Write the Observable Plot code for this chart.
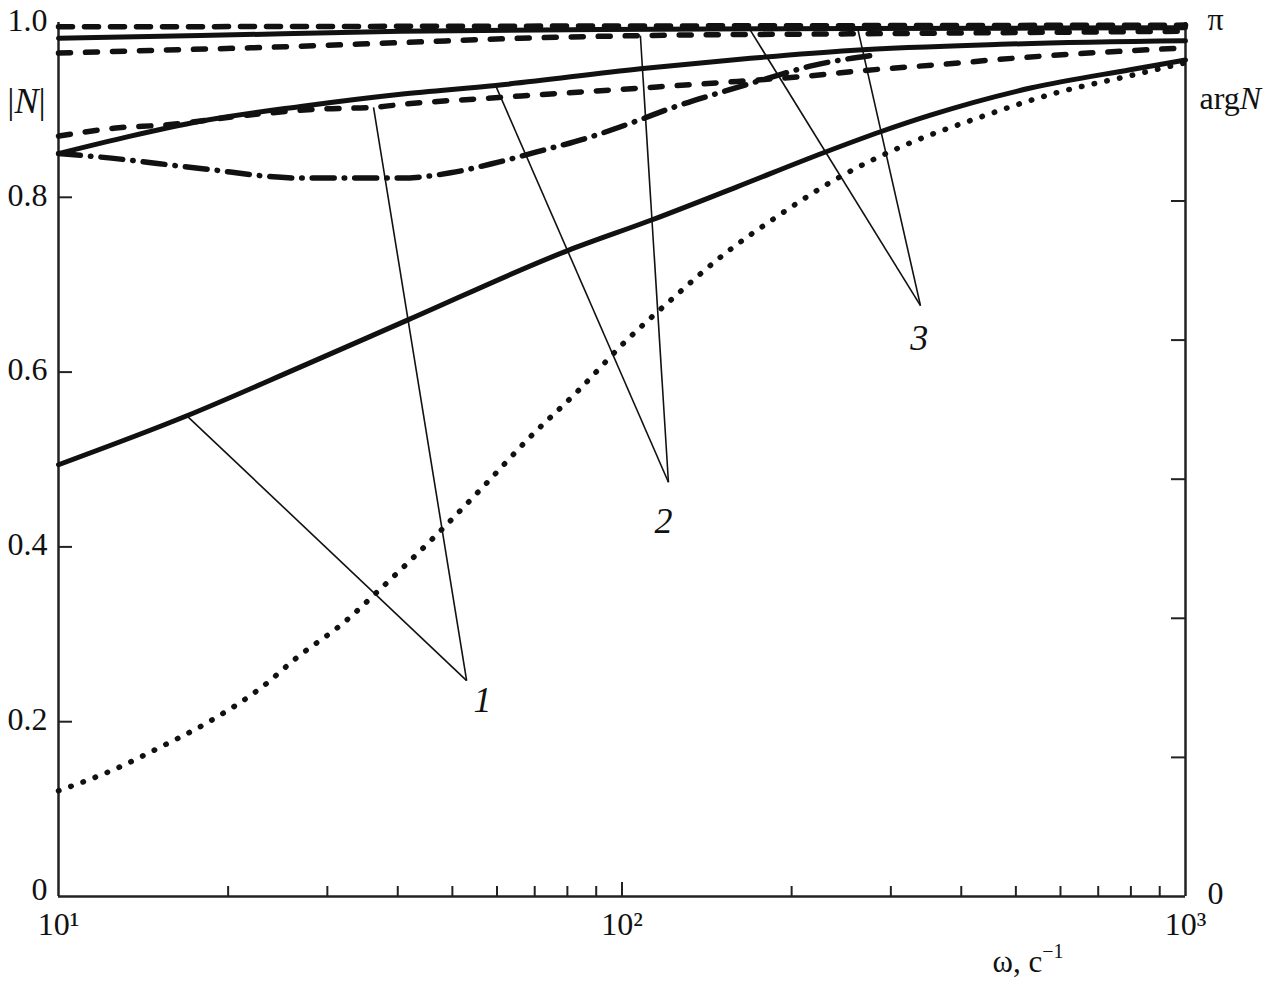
<!DOCTYPE html>
<html><head><meta charset="utf-8">
<script src="https://cdn.jsdelivr.net/npm/d3@7"></script>
<script src="https://cdn.jsdelivr.net/npm/@observablehq/plot@0.6"></script>
<style>body{margin:0;background:#fff} svg{display:block}</style>
</head><body><div id="chart"></div>
<script>
// ---- data (ω in s^-1, values on the |N| axis 0..1; argN axis 0..π shares the same span)
const wA = [10, 16.9, 26.9, 41.8, 80.1, 112.8, 160, 227.9, 287.6, 352.7, 530.9, 797.6, 1000];
const vA = [0.494, 0.550, 0.606, 0.660, 0.739, 0.774, 0.812, 0.851, 0.875, 0.894, 0.925, 0.946, 0.957];

const wB = [10, 12.52, 15.17, 18.38, 23.11, 26.33, 32.3, 37.13, 47.06, 56.55, 68.27, 83.71, 101.0, 120.9, 152.6, 186.5, 246.2, 316.0, 429.2, 585.6, 795.6, 1000];
const vB = [0.121, 0.145, 0.171, 0.199, 0.241, 0.272, 0.315, 0.351, 0.415, 0.468, 0.524, 0.579, 0.634, 0.680, 0.736, 0.776, 0.825, 0.859, 0.891, 0.919, 0.939, 0.954];

const wC = [10, 11.87, 17.86, 26.89, 40.46, 49.62, 60.1, 72.57, 86.85, 104.8, 123.4, 149.5, 181.2, 218.7, 244.2, 276.1];
const vC = [0.850, 0.846, 0.833, 0.822, 0.822, 0.828, 0.840, 0.854, 0.868, 0.886, 0.903, 0.920, 0.936, 0.951, 0.957, 0.962];

const wD = [10, 12.52, 15.61, 21.65, 29.17, 36.23, 41.63, 56.8, 77.8, 107.8, 147.7, 207.4, 268.3, 367.5, 493.2, 672.9, 1000];
const vD = [0.870, 0.879, 0.883, 0.894, 0.901, 0.903, 0.907, 0.913, 0.919, 0.925, 0.931, 0.938, 0.945, 0.952, 0.959, 0.965, 0.971];

const wE = [10, 13.42, 17.86, 26.89, 40.46, 59.65, 107.8, 169, 254.4, 469.5, 1000];
const vE = [0.850, 0.870, 0.887, 0.904, 0.918, 0.928, 0.947, 0.959, 0.968, 0.975, 0.979];

const wF = [10, 14.56, 21.91, 40.46, 66.05, 107.8, 254.4, 1000];
const vF = [0.965, 0.968, 0.971, 0.977, 0.982, 0.985, 0.987, 0.990];

const wG = [10, 17.86, 40.46, 91.6, 254.4, 1000];
const vG = [0.982, 0.985, 0.990, 0.992, 0.993, 0.994];

const wH = [10, 1000];
const vH = [0.995, 0.997];

// axis ticks
const yTicks = [0.2, 0.4, 0.6, 0.8, 1.0];
const yZero = [0];
const yInnerTicks = [0.2, 0.4, 0.6, 0.8];
const argTicks = [0.5, 1, 1.5, 2, 2.5];          // radians
const argLabelValues = [0, Math.PI];
const argLabelText = ["0", "π"];
const xMajor = [10, 100, 1000];
const xMajorLabels = ["10¹", "10²", "10³"];
const xMinor = [20, 30, 40, 50, 60, 70, 80, 90, 200, 300, 400, 500, 600, 700, 800, 900];

// curve labels with leader lines
const labelNames = ["1", "2", "3"];
const labelW = [56.55, 118.5, 337];
const labelV = [0.224, 0.429, 0.638];
const apexW = [53.0, 120.9, 338.6];
const apexV = [0.247, 0.474, 0.676];
const targetW = [[16.9, 36.23], [59.65, 107.8], [169, 262]];
const targetV = [[0.550, 0.903], [0.928, 0.985], [0.991, 0.993]];

// ---- build tables
const toRows = (w, v) => w.map((x, i) => ({w: x, v: v[i]}));
const A = toRows(wA, vA), B = toRows(wB, vB), C = toRows(wC, vC), D = toRows(wD, vD);
const E = toRows(wE, vE), F = toRows(wF, vF), G = toRows(wG, vG), Hc = toRows(wH, vH);
const leaders = [];
labelNames.forEach((n, i) => targetW[i].forEach((tw, j) => leaders.push({w1: apexW[i], v1: apexV[i], w2: tw, v2: targetV[i][j]})));
const labels = labelNames.map((n, i) => ({n, w: labelW[i], v: labelV[i]}));
const xLabelRows = xMajor.map((w, i) => ({w, t: xMajorLabels[i]}));

const W = 1288, H = 984;
const mt = 22, mr = 103, mb = 88, ml = 58;
const plotW = W - ml - mr, plotH = H - mt - mb;

const solid = {x: "w", y: "v", stroke: "#111", strokeWidth: 5, curve: "monotone-x", strokeLinecap: "round"};
const dashed = {...solid, strokeWidth: 5.5, strokeDasharray: "12 15"};
const FS = 32;

const chart = Plot.plot({
  width: W, height: H,
  marginTop: mt, marginRight: mr, marginBottom: mb, marginLeft: ml,
  style: {fontFamily: "'Liberation Serif', 'DejaVu Serif', serif", fontSize: FS + "px", color: "#111", background: "#fff"},
  x: {type: "log", domain: [10, 1000], axis: null},
  y: {domain: [0, 1], axis: null},
  marks: [
    // inner ticks
    Plot.tickX(xMinor, {x: d => d, insetTop: plotH - 10, stroke: "#222", strokeWidth: 2}),
    Plot.tickX([100], {x: d => d, insetTop: plotH - 14, stroke: "#222", strokeWidth: 2}),
    Plot.tickY(yInnerTicks, {y: d => d, insetRight: plotW - 14, stroke: "#222", strokeWidth: 2}),
    Plot.tickY(argTicks, {y: d => d / Math.PI, insetLeft: plotW - 14, stroke: "#222", strokeWidth: 2}),
    // axis lines
    Plot.ruleX([10, 1000], {stroke: "#222", strokeWidth: 2.5}),
    Plot.ruleY([0], {stroke: "#222", strokeWidth: 2.5}),
    // axis labels
    Plot.axisY(yTicks, {anchor: "left", tickSize: 0, tickPadding: 11, dy: -2, tickFormat: d => d.toFixed(1), fontSize: FS}),
    Plot.axisY(yZero, {anchor: "left", tickSize: 0, tickPadding: 11, dy: -7, tickFormat: () => "0", fontSize: FS}),
    Plot.axisY(argLabelValues.map(a => a / Math.PI), {anchor: "right", tickSize: 0, tickPadding: 22, dy: -3, tickFormat: (d, i) => argLabelText[i], fontSize: FS}),
    Plot.text(xLabelRows, {x: "w", frameAnchor: "bottom", lineAnchor: "top", dy: 16, text: "t", fontSize: FS, fill: "#111"}),
    // curves
    Plot.line(A, solid),
    Plot.line(B, {...solid, strokeWidth: 5.5, strokeDasharray: "0.5 12.5"}),
    Plot.line(C, {...solid, strokeWidth: 5.5, strokeDasharray: "22 10 0.5 10"}),
    Plot.line(D, dashed),
    Plot.line(E, solid),
    Plot.line(F, dashed),
    Plot.line(G, solid),
    Plot.line(Hc, {...dashed, strokeDasharray: "14 12"}),
    // leader lines and labels
    Plot.link(leaders, {x1: "w1", y1: "v1", x2: "w2", y2: "v2", stroke: "#111", strokeWidth: 1.6}),
    Plot.text(labels, {x: "w", y: "v", text: "n", fontStyle: "italic", fontSize: 36, fill: "#111"}),
    // axis titles
    Plot.text(["|N|"], {frameAnchor: "top-left", lineAnchor: "middle", dx: -32, dy: 79, textAnchor: "middle", fontSize: 36, fill: "#111"}),
    Plot.text(["argN"], {frameAnchor: "top-right", lineAnchor: "middle", dx: 14, dy: 76, textAnchor: "start", fontSize: 32, fill: "#111"}),
    Plot.text(["ω, c-1"], {frameAnchor: "bottom-right", lineAnchor: "middle", dx: -193, dy: 66, textAnchor: "start", fontSize: 31, fill: "#111"})
  ]
});

// rich text: italic N, superscript −1
d3.select(chart).selectAll("text").each(function() {
  const t = this.textContent;
  const s = d3.select(this);
  if (t === "|N|") {
    s.text(null);
    s.append("tspan").text("|");
    s.append("tspan").attr("font-style", "italic").text("N");
    s.append("tspan").text("|");
  } else if (t === "argN") {
    s.text(null);
    s.append("tspan").text("arg");
    s.append("tspan").attr("font-style", "italic").text("N");
  } else if (t === "ω, c-1") {
    s.text(null);
    s.append("tspan").text("ω, c");
    s.append("tspan").attr("font-size", 20).attr("dy", "-0.7em").text("−1");
  }
});

document.getElementById("chart").appendChild(chart);
</script>
</body></html>
